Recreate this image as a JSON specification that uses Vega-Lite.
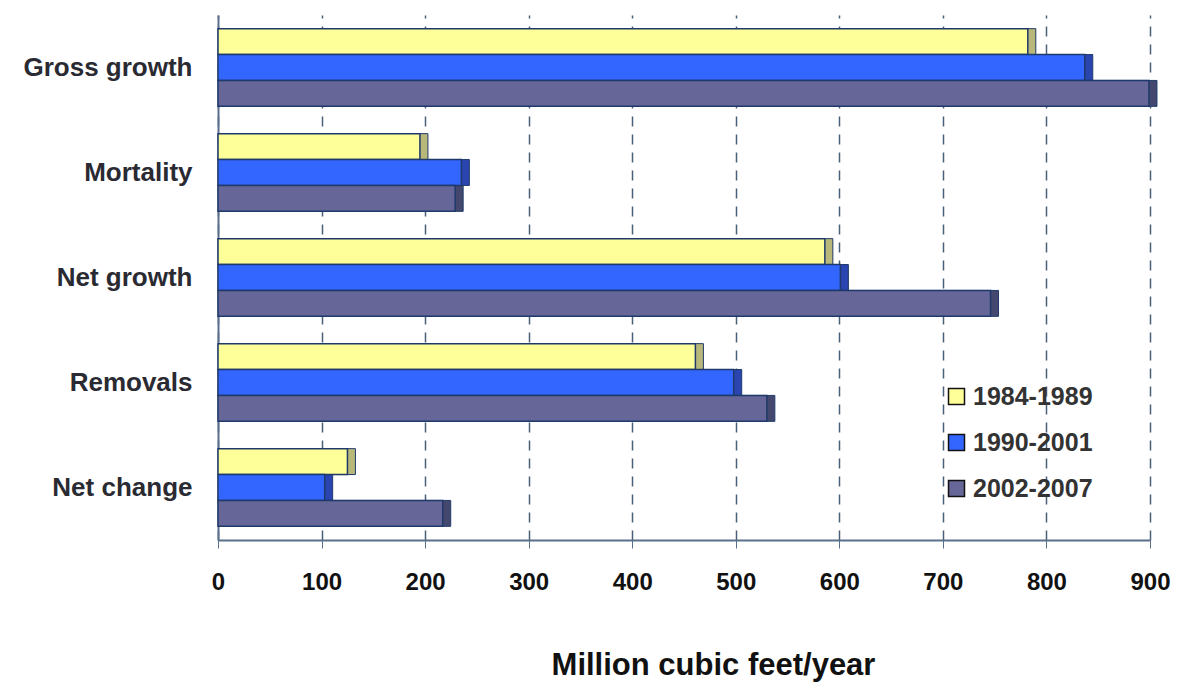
{
  "$schema": "https://vega.github.io/schema/vega-lite/v6.json",
  "width": 932,
  "height": 525,
  "autosize": {"type": "none"},
  "padding": {"left": 218, "top": 15, "right": 30, "bottom": 147},
  "background": "white",
  "config": {
    "view": {"stroke": null},
    "font": "Liberation Sans"
  },
  "data": {
    "values": [
      {"category": "Gross growth", "period": "1984-1989", "value": 782},
      {"category": "Gross growth", "period": "1990-2001", "value": 837},
      {"category": "Gross growth", "period": "2002-2007", "value": 899},
      {"category": "Mortality", "period": "1984-1989", "value": 195},
      {"category": "Mortality", "period": "1990-2001", "value": 235},
      {"category": "Mortality", "period": "2002-2007", "value": 229},
      {"category": "Net growth", "period": "1984-1989", "value": 586},
      {"category": "Net growth", "period": "1990-2001", "value": 601},
      {"category": "Net growth", "period": "2002-2007", "value": 746},
      {"category": "Removals", "period": "1984-1989", "value": 461},
      {"category": "Removals", "period": "1990-2001", "value": 498},
      {"category": "Removals", "period": "2002-2007", "value": 530},
      {"category": "Net change", "period": "1984-1989", "value": 125},
      {"category": "Net change", "period": "1990-2001", "value": 103},
      {"category": "Net change", "period": "2002-2007", "value": 217}
    ]
  },
  "encoding": {
    "y": {
      "field": "category",
      "type": "nominal",
      "sort": ["Gross growth", "Mortality", "Net growth", "Removals", "Net change"],
      "scale": {"paddingInner": 0.26, "paddingOuter": 0.13},
      "axis": {
        "title": null,
        "labelFontSize": 26,
        "labelFontWeight": "bold",
        "labelColor": "#2a2a33",
        "labelPadding": 26,
        "ticks": false,
        "domainColor": "#5a6f8a",
        "domainWidth": 2
      }
    },
    "yOffset": {
      "field": "period",
      "type": "nominal",
      "sort": ["1984-1989", "1990-2001", "2002-2007"]
    },
    "x": {
      "field": "value",
      "type": "quantitative",
      "scale": {"domain": [0, 900], "nice": false},
      "axis": {
        "title": "Million cubic feet/year",
        "titleFontSize": 31,
        "titleFontWeight": "bold",
        "titleColor": "#111111",
        "titlePadding": 56,
        "titleAnchor": "middle",
        "titleX": 495,
        "values": [0, 100, 200, 300, 400, 500, 600, 700, 800, 900],
        "labelFontSize": 24,
        "labelFontWeight": "bold",
        "labelColor": "#111111",
        "labelPadding": 22,
        "labelFlush": false,
        "tickColor": "#5a6f8a",
        "tickSize": 8,
        "domainColor": "#5a6f8a",
        "domainWidth": 2,
        "grid": true,
        "gridColor": "#4a5f7a",
        "gridDash": [10, 8],
        "gridWidth": 1.5
      }
    }
  },
  "layer": [
    {
      "mark": {"type": "bar", "xOffset": 8, "stroke": "#1f3a6a", "strokeWidth": 1},
      "encoding": {
        "color": {
          "field": "period",
          "type": "nominal",
          "scale": {"domain": ["1984-1989", "1990-2001", "2002-2007"], "range": ["#b8b87a", "#2a44b0", "#44476e"]},
          "legend": null
        }
      }
    },
    {
      "mark": {"type": "bar", "stroke": "#1f3a6a", "strokeWidth": 1.5},
      "encoding": {
        "color": {
          "field": "period",
          "type": "nominal",
          "scale": {"domain": ["1984-1989", "1990-2001", "2002-2007"], "range": ["#ffff99", "#3366ff", "#666699"]},
          "legend": {
            "title": null,
            "orient": "none",
            "legendX": 726,
            "legendY": 369,
            "symbolType": "square",
            "symbolSize": 256,
            "symbolStrokeColor": "#111111",
            "symbolStrokeWidth": 1.5,
            "labelFontSize": 25,
            "labelFontWeight": "bold",
            "labelColor": "#333333",
            "rowPadding": 20,
            "labelOffset": 4
          }
        }
      }
    }
  ],
  "resolve": {"scale": {"color": "independent"}}
}
